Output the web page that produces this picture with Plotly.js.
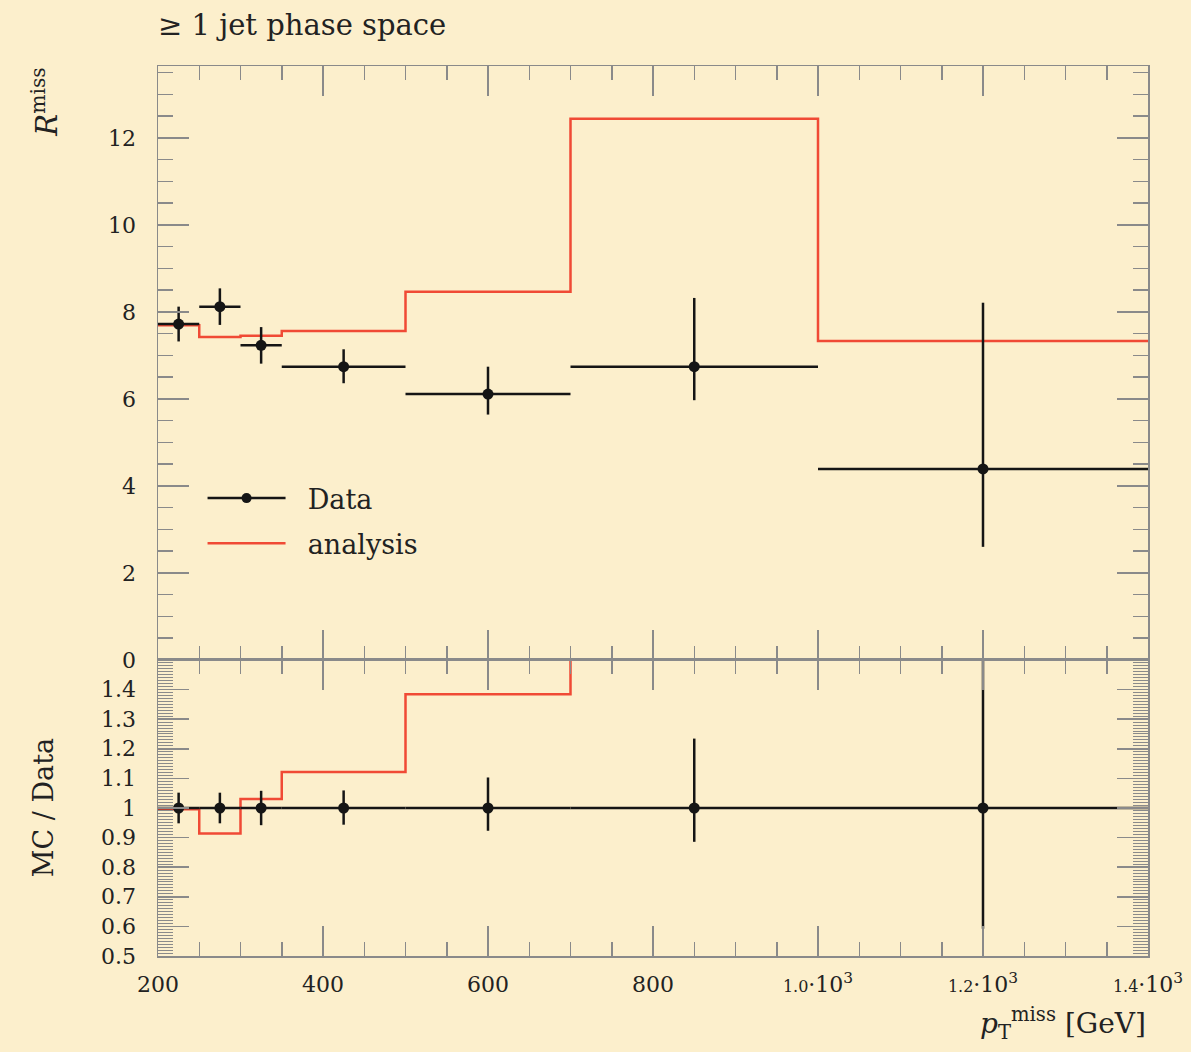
<!DOCTYPE html>
<html>
<head>
<meta charset="utf-8">
<script src="https://cdn.plot.ly/plotly-3.0.1.min.js"></script>
<style>html,body{margin:0;padding:0;background:#fcefcc;}</style>
</head>
<body>
<div id="chart" style="width:1191px;height:1052px;"></div>
<script>
// ---- data ----
const binEdges = [200, 250, 300, 350, 500, 700, 1000, 1400];
const dataVals = [7.72, 8.12, 7.23, 6.74, 6.11, 6.74, 4.39];
const dataErrUp = [0.40, 0.42, 0.42, 0.40, 0.63, 1.58, 3.82];
const dataErrDown = [0.40, 0.42, 0.42, 0.38, 0.47, 0.77, 1.79];
const mcVals = [7.69, 7.42, 7.45, 7.56, 8.46, 12.44, 7.33];
const xTickVals = [200, 400, 600, 800, 1000, 1200, 1400];
const xTickText = ['200', '400', '600', '800',
  '<span style="font-size:16px">1.0</span>·10<sup>3</sup>',
  '<span style="font-size:16px">1.2</span>·10<sup>3</sup>',
  '<span style="font-size:16px">1.4</span>·10<sup>3</sup>'];
const yTickVals = [0, 2, 4, 6, 8, 10, 12];
const ratioTickVals = [0.5, 0.6, 0.7, 0.8, 0.9, 1, 1.1, 1.2, 1.3, 1.4];

// ---- derived ----
const centers = dataVals.map((_, i) => (binEdges[i] + binEdges[i + 1]) / 2);
const halfW = dataVals.map((_, i) => (binEdges[i + 1] - binEdges[i]) / 2);
const mcStep = mcVals.concat([mcVals[mcVals.length - 1]]);
const ratioVals = mcVals.map((v, i) => v / dataVals[i]);
const ratioStep = ratioVals.concat([ratioVals[ratioVals.length - 1]]);
const ones = dataVals.map(() => 1);
const rErrUp = dataVals.map((v, i) => dataErrUp[i] / v);
const rErrDown = dataVals.map((v, i) => dataErrDown[i] / v);

const RED = '#f04a35';
const BLK = '#151515';
const GRID = '#8a8a8a';
const FONT = 'DejaVu Serif, Liberation Serif, serif';
const TXT = '#222';

const traces = [
  { // legend entry for Data
    x: [null], y: [null], xaxis: 'x2', yaxis: 'y', name: '\u00a0\u00a0Data',
    mode: 'lines+markers', line: {color: BLK, width: 2.5},
    marker: {color: BLK, size: 10}, legendgroup: 'a'
  },
  {
    x: binEdges, y: mcStep, xaxis: 'x2', yaxis: 'y', name: '\u00a0\u00a0analysis',
    mode: 'lines', line: {color: RED, width: 2.5, shape: 'hv'}, legendgroup: 'b'
  },
  {
    x: centers, y: dataVals, xaxis: 'x2', yaxis: 'y', showlegend: false,
    mode: 'markers', marker: {color: BLK, size: 11},
    error_x: {type: 'data', array: halfW, color: BLK, thickness: 2.5, width: 0},
    error_y: {type: 'data', symmetric: false, array: dataErrUp, arrayminus: dataErrDown, color: BLK, thickness: 2.5, width: 0}
  },
  {
    x: binEdges, y: ratioStep, xaxis: 'x', yaxis: 'y2', showlegend: false,
    mode: 'lines', line: {color: RED, width: 2.5, shape: 'hv'}
  },
  {
    x: centers, y: ones, xaxis: 'x', yaxis: 'y2', showlegend: false,
    mode: 'markers', marker: {color: BLK, size: 11},
    error_x: {type: 'data', array: halfW, color: BLK, thickness: 2.5, width: 0},
    error_y: {type: 'data', symmetric: false, array: rErrUp, arrayminus: rErrDown, color: BLK, thickness: 2.5, width: 0}
  }
];

const split = 0.3326;
const axCommon = {
  showline: true, linecolor: GRID, linewidth: 1.5, mirror: 'ticks',
  ticks: 'inside', tickcolor: GRID, tickwidth: 1.5,
  showgrid: false, zeroline: false,
  tickfont: {family: FONT, size: 22, color: TXT}
};

const layout = {
  width: 1191, height: 1052,
  paper_bgcolor: '#fcefcc', plot_bgcolor: '#fcefcc',
  margin: {l: 158, r: 43, t: 66, b: 96},
  font: {family: FONT, color: TXT},
  title: {text: '≥ 1 jet phase space', font: {family: FONT, size: 29, color: TXT},
          x: 0, xref: 'paper', xanchor: 'left', y: 1 - 25 / 1052, yref: 'container', yanchor: 'middle'},
  showlegend: true,
  legend: {x: 0.045, y: 0.5415, xanchor: 'left', yanchor: 'top', bgcolor: 'rgba(0,0,0,0)',
           font: {family: FONT, size: 27, color: TXT}, itemwidth: 78,
           traceorder: 'grouped', tracegroupgap: 7},
  xaxis: Object.assign({}, axCommon, {
    domain: [0, 1], anchor: 'y2', range: [200, 1400],
    tickvals: xTickVals, ticktext: xTickText, ticklen: 30,
    ticklabelstandoff: 8,
    minor: {dtick: 50, tick0: 0, ticklen: 14, tickcolor: GRID, tickwidth: 1.5, ticks: 'inside'}
  }),
  xaxis2: Object.assign({}, axCommon, {
    domain: [0, 1], anchor: 'y', range: [200, 1400], matches: 'x',
    tickvals: xTickVals, showticklabels: false, ticklen: 30,
    minor: {dtick: 50, tick0: 0, ticklen: 14, tickcolor: GRID, tickwidth: 1.5, ticks: 'inside'}
  }),
  yaxis: Object.assign({}, axCommon, {
    domain: [split, 1], anchor: 'x2', range: [0, 13.65],
    tickvals: yTickVals, ticklen: 31, ticklabelstandoff: 16,
    minor: {dtick: 0.5, tick0: 0, ticklen: 15, tickcolor: GRID, tickwidth: 1.5, ticks: 'inside'}
  }),
  yaxis2: Object.assign({}, axCommon, {
    domain: [0, split], anchor: 'x', range: [0.5, 1.5],
    tickvals: ratioTickVals, ticklen: 31, ticklabelstandoff: 16,
    minor: {dtick: 0.01, tick0: 0, ticklen: 15, tickcolor: GRID, tickwidth: 1, ticks: 'inside'}
  }),
  annotations: [
    {text: '<i>R</i><sup>miss</sup>', xref: 'paper', yref: 'paper', x: -0.115, y: 1.0,
     xanchor: 'center', yanchor: 'top', textangle: -90, showarrow: false,
     font: {family: FONT, size: 29, color: TXT}},
    {text: 'MC / Data', xref: 'paper', yref: 'paper', x: -0.115, y: split / 2,
     xanchor: 'center', yanchor: 'middle', textangle: -90, showarrow: false,
     font: {family: FONT, size: 27, color: TXT}},
    {text: '<i>p</i><sub>T</sub><sup>miss</sup> [GeV]', xref: 'paper', yref: 'paper', x: 1.0, y: -0.076,
     xanchor: 'right', yanchor: 'middle', showarrow: false,
     font: {family: FONT, size: 28, color: TXT}}
  ]
};

Plotly.newPlot('chart', traces, layout, {displayModeBar: false, staticPlot: true});
</script>
</body>
</html>
